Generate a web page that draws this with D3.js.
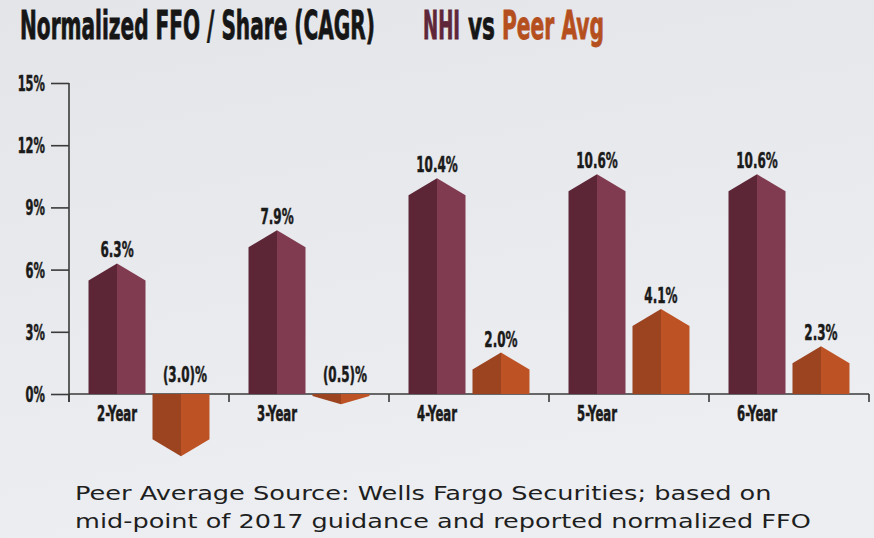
<!DOCTYPE html>
<html>
<head>
<meta charset="utf-8">
<script src="https://cdn.jsdelivr.net/npm/d3@7"></script>
<style>
  html, body { margin: 0; padding: 0; }
  body { width: 874px; height: 538px; overflow: hidden; }
  .cond { font-family: "DejaVu Sans Condensed", "DejaVu Sans", sans-serif; font-weight: bold; }
  .note { font-family: "DejaVu Sans", sans-serif; font-size: 20px; fill: #1e1e1e; }
</style>
</head>
<body>
<div id="chart"></div>
<script>
// Normalized FFO / Share CAGR, NHI vs peer average

const categories = ['2-Year', '3-Year', '4-Year', '5-Year', '6-Year'];
const nhiValues = [6.3, 7.9, 10.4, 10.6, 10.6];
const peerValues = [-3.0, -0.5, 2.0, 4.1, 2.3];
const yTicks = [0, 3, 6, 9, 12, 15];
const seriesNames = ['NHI', 'Peer'];

const colors = {
    NHI: { left: '#5d2637', right: '#813b51' },
    Peer: { left: '#9c4420', right: '#bd5224' }
};

const width = 874, height = 538;
const squeeze = 0.62;  // the original uses a very condensed face

const svg = d3.select('#chart').append('svg')
    .attr('width', width)
    .attr('height', height);

// background
const defs = svg.append('defs');
const bg = defs.append('linearGradient').attr('id', 'bg')
    .attr('x1', 0).attr('y1', 0).attr('x2', 0.3).attr('y2', 1);
bg.append('stop').attr('offset', '0%').attr('stop-color', '#e4e5e8');
bg.append('stop').attr('offset', '100%').attr('stop-color', '#eceef2');
svg.append('rect').attr('width', width).attr('height', height).attr('fill', 'url(#bg)');

// squash text horizontally with a transform (keeps the boxes honest)
function place(sel, k) {
    sel.each(function() {
        const t = d3.select(this);
        const px = +t.attr('x') || 0, py = +t.attr('y') || 0;
        t.attr('x', 0).attr('y', 0)
            .attr('transform', `translate(${px},${py}) scale(${k},1)`);
    });
}
function fitTo(sel, w) {
    sel.each(function() {
        const k = w / this.getComputedTextLength();
        d3.select(this).call(place, k);
    });
}

// scales
const y = d3.scaleLinear().domain([0, 15]).range([394, 83]);
const x = d3.scaleBand().domain(categories).range([69, 869]);
const xSub = d3.scaleBand().domain(seriesNames).range([0, x.bandwidth()])
    .paddingInner(0.109).paddingOuter(0.305);

// title
const title = svg.append('g').attr('class', 'cond').style('font-size', '38.5px')
    .attr('stroke-width', 0.8);
title.append('text').attr('x', 20).attr('y', 39).attr('fill', '#161616').attr('stroke', '#161616')
    .text('Normalized FFO / Share (CAGR)').call(fitTo, 355);
title.append('text').attr('x', 423).attr('y', 39).attr('fill', '#5e2638').attr('stroke', '#5e2638')
    .text('NHI').call(fitTo, 37);
title.append('text').attr('x', 468).attr('y', 39).attr('fill', '#161616').attr('stroke', '#161616')
    .text('vs').call(fitTo, 27);
title.append('text').attr('x', 502).attr('y', 39).attr('fill', '#b5501e').attr('stroke', '#b5501e')
    .text('Peer Avg').call(fitTo, 102);

// y axis
const yAxis = svg.append('g')
    .attr('transform', 'translate(69,0)')
    .call(d3.axisLeft(y).tickValues(yTicks).tickSize(18).tickPadding(6).tickFormat(d => d + '%'));
yAxis.select('.domain').attr('stroke', '#3a3a3a').attr('stroke-width', 1.6)
    .attr('d', `M0,${y(15)}V${y(0) + 8}`);
yAxis.selectAll('.tick line').attr('stroke', '#3a3a3a').attr('stroke-width', 1.6);
yAxis.selectAll('.tick text')
    .attr('class', 'cond')
    .attr('fill', '#1a1a1a')
    .attr('stroke', '#1a1a1a')
    .attr('stroke-width', 0.5)
    .style('font-size', '20.5px')
    .attr('x', -24)
    .attr('y', 7.5)
    .attr('dy', null)
    .call(place, squeeze);

// x axis: baseline with ticks at band boundaries
const xAxis = svg.append('g');
xAxis.append('line')
    .attr('x1', 69).attr('x2', 869)
    .attr('y1', y(0)).attr('y2', y(0))
    .attr('stroke', '#3a3a3a').attr('stroke-width', 1.6);
const bounds = categories.map(c => x(c)).concat([x.range()[1]]);
xAxis.selectAll('line.bound')
    .data(bounds)
    .enter().append('line')
    .attr('class', 'bound')
    .attr('x1', d => d).attr('x2', d => d)
    .attr('y1', y(0)).attr('y2', y(0) + 8)
    .attr('stroke', '#3a3a3a').attr('stroke-width', 1.6);

// bar data
const bars = [];
categories.forEach((c, i) => {
    bars.push({ cat: c, series: 'NHI', value: nhiValues[i] });
    bars.push({ cat: c, series: 'Peer', value: peerValues[i] });
});

// pentagon-topped column split into a dark and a light half
function halves(d) {
    const x0 = x(d.cat) + xSub(d.series);
    const x1 = x0 + xSub.bandwidth();
    const xc = (x0 + x1) / 2;
    const base = y(0);
    const apex = y(d.value);
    const depth = Math.abs(base - apex);
    const dir = d.value >= 0 ? 1 : -1;
    const cap = depth > 20 ? 17 : depth * 0.8;
    const shoulder = apex + dir * cap;
    return {
        left: `M${x0},${base}L${x0},${shoulder}L${xc},${apex}L${xc},${base}Z`,
        right: `M${xc},${base}L${xc},${apex}L${x1},${shoulder}L${x1},${base}Z`
    };
}

const barG = svg.append('g');
const barSel = barG.selectAll('g.bar')
    .data(bars)
    .enter().append('g')
    .attr('class', 'bar');
barSel.append('path')
    .attr('d', d => halves(d).left)
    .attr('fill', d => colors[d.series].left);
barSel.append('path')
    .attr('d', d => halves(d).right)
    .attr('fill', d => colors[d.series].right);

// value labels
const fmt = v => v < 0 ? `(${Math.abs(v).toFixed(1)})%` : `${v.toFixed(1)}%`;
barG.selectAll('text.val')
    .data(bars)
    .enter().append('text')
    .attr('class', 'val cond')
    .attr('text-anchor', 'middle')
    .attr('fill', '#1a1a1a')
    .attr('stroke', '#1a1a1a')
    .attr('stroke-width', 0.5)
    .style('font-size', '21.5px')
    .attr('x', d => x(d.cat) + xSub(d.series) + xSub.bandwidth() / 2 + (d.value < 0 ? 4 : 0))
    .attr('y', d => d.value >= 0 ? y(d.value) - 6 : y(0) - 12)
    .text(d => fmt(d.value))
    .call(place, squeeze);

// category labels, centred under the NHI column
svg.append('g').selectAll('text.cat')
    .data(categories)
    .enter().append('text')
    .attr('class', 'cat cond')
    .attr('text-anchor', 'middle')
    .attr('fill', '#1a1a1a')
    .attr('stroke', '#1a1a1a')
    .attr('stroke-width', 0.5)
    .style('font-size', '21px')
    .attr('x', d => x(d) + xSub('NHI') + xSub.bandwidth() / 2)
    .attr('y', 421)
    .text(d => d)
    .call(place, squeeze);

// footnote
const note = svg.append('g').attr('class', 'note');
note.append('text').attr('x', 75).attr('y', 500)
    .text('Peer Average Source: Wells Fargo Securities; based on').call(fitTo, 697);
note.append('text').attr('x', 75).attr('y', 528)
    .text('mid-point of 2017 guidance and reported normalized FFO').call(fitTo, 736);
</script>
</body>
</html>
